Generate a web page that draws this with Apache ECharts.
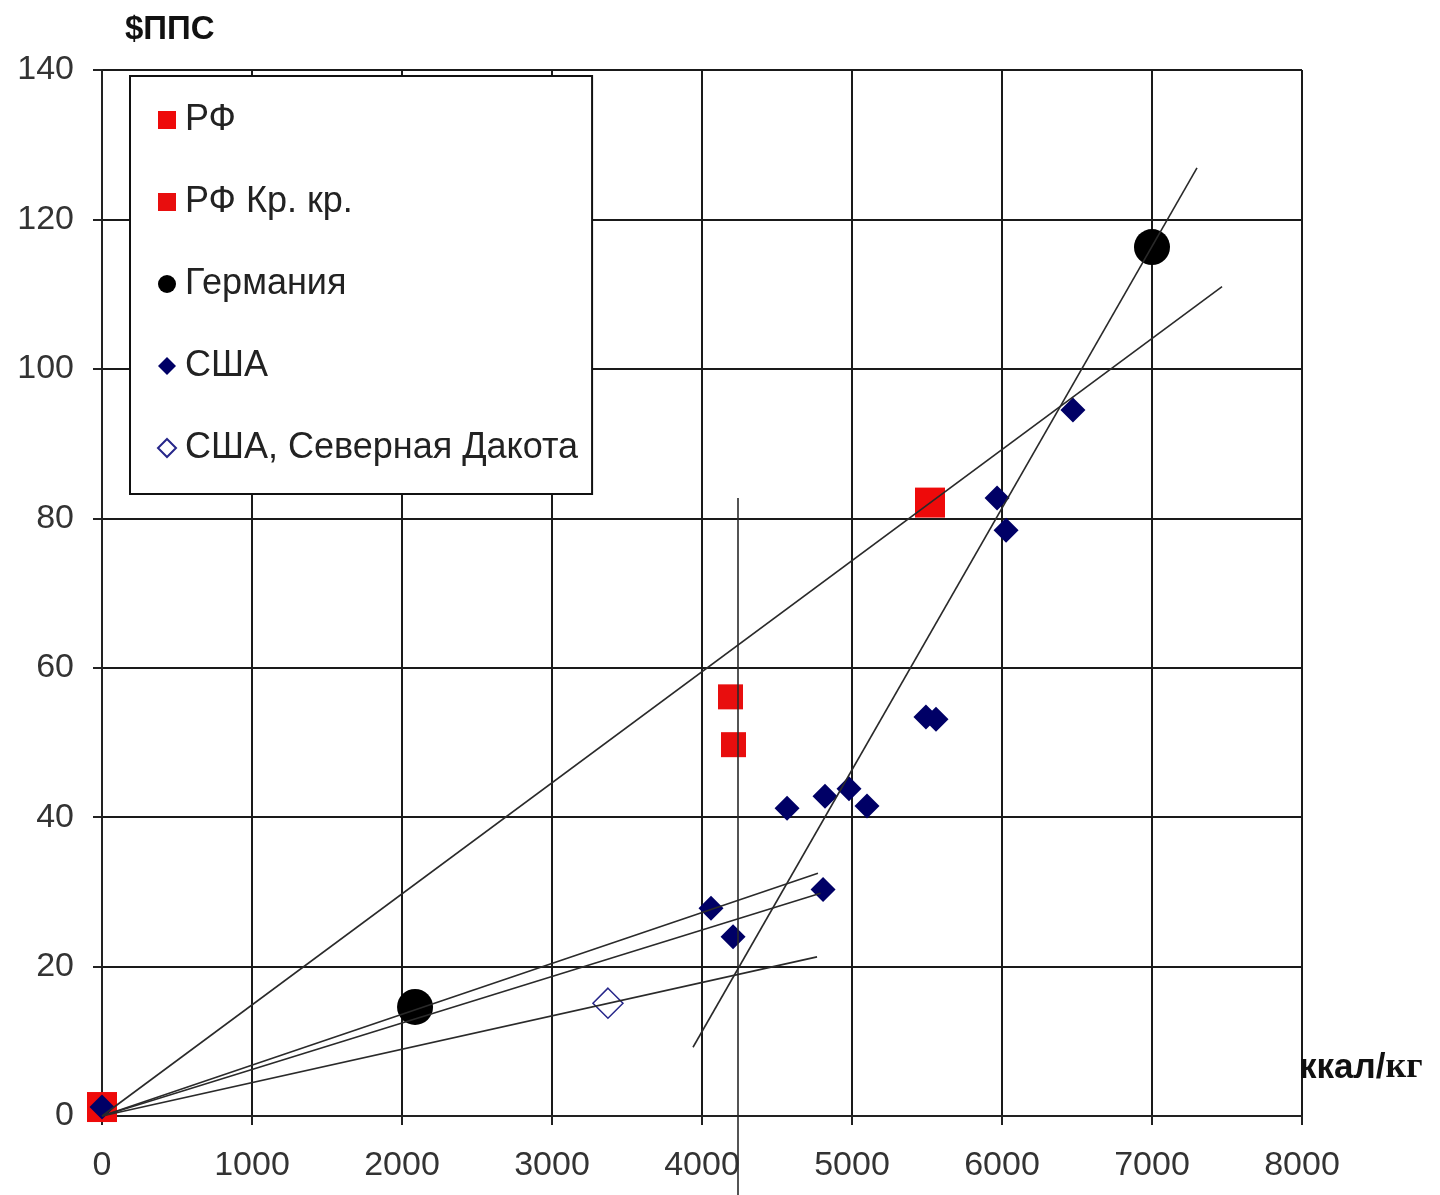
<!DOCTYPE html>
<html>
<head>
<meta charset="utf-8">
<script src="https://cdn.jsdelivr.net/npm/echarts@6/dist/echarts.min.js"></script>
<style>html,body{margin:0;padding:0;background:#fff}#c{width:1440px;height:1195px}</style>
</head>
<body>
<div id="c"></div>
<script>
// Data
const rfPoints = [[0, 1.2], [5520, 82.1]];
const rfKrPoints = [[4190, 56.1], [4210, 49.7]];
const germanyPoints = [[2087, 14.6], [7000, 116.3]];
const usaPoints = [[0, 1.2], [6473, 94.5], [5967, 82.7], [6027, 78.4], [5493, 53.4], [5560, 53.1],
  [4980, 43.8], [4820, 42.8], [5100, 41.5], [4567, 41.2], [4807, 30.3], [4060, 27.8], [4207, 24.0]];
const ndPoints = [[3373, 15.1]];
// Trend lines (endpoints)
const lineRF = [[0, 0], [7467, 111]];
const lineGermany = [[3940, 9.2], [7300, 126.9]];
const lineVertical = [[4240, 82.7], [4240, -10.6]];
const lineUsa1 = [[0, 0], [4773, 32.5]];
const lineUsa2 = [[0, 0], [4790, 29.8]];
const lineNd = [[0, 0], [4767, 21.3]];
const xTicks = [0, 1000, 2000, 3000, 4000, 5000, 6000, 7000, 8000];
const yTicks = [0, 20, 40, 60, 80, 100, 120, 140];
const legendNames = ['РФ', 'РФ Кр. кр.', 'Германия', 'США', 'США, Северная Дакота'];

const chart = echarts.init(document.getElementById('c'), null, {renderer: 'canvas'});
const font = 'Liberation Sans, Arial, sans-serif';
const trend = (d) => ({
  type: 'line', data: d, symbol: 'none', silent: true, clip: false, z: 5,
  lineStyle: {color: '#2a2a2a', width: 1.6}, animation: false
});
chart.setOption({
  animation: false,
  backgroundColor: '#fff',
  grid: {left: 102, right: 138, top: 70, bottom: 79},
  legend: {
    data: legendNames,
    orient: 'vertical',
    left: 130, top: 76,
    padding: [26, 14, 28, 27],
    itemGap: 46,
    itemWidth: 18, itemHeight: 18,
    backgroundColor: '#fff',
    borderColor: '#111', borderWidth: 2,
    textStyle: {fontFamily: font, fontSize: 36, color: '#222', padding: [0, 0, 0, 4]},
    selectedMode: false
  },
  xAxis: {
    type: 'value', min: 0, max: 8000, interval: 1000,
    name: '{a|ккал/}{b|кг}',
    nameLocation: 'end', nameGap: -3,
    nameTextStyle: {
      align: 'left', verticalAlign: 'bottom', padding: [0, 0, 30, 0],
      rich: {
        a: {fontFamily: font, fontWeight: 'bold', fontSize: 35, color: '#111'},
        b: {fontFamily: 'Liberation Serif, serif', fontWeight: 'bold', fontSize: 36, color: '#111'}
      }
    },
    axisLine: {lineStyle: {color: '#222', width: 2}},
    axisTick: {show: true, length: 9, lineStyle: {color: '#222', width: 2}},
    axisLabel: {fontFamily: font, fontSize: 34, color: '#333', margin: 33,
      formatter: (v) => xTicks.includes(v) ? String(v) : ''},
    splitLine: {show: true, lineStyle: {color: '#1a1a1a', width: 2}}
  },
  yAxis: {
    type: 'value', min: 0, max: 140, interval: 20,
    name: '$ППС',
    nameLocation: 'end', nameGap: 40,
    nameTextStyle: {fontFamily: font, fontWeight: 'bold', fontSize: 33, color: '#111',
      align: 'left', verticalAlign: 'middle', padding: [0, 0, 0, 23]},
    axisLine: {show: true, lineStyle: {color: '#222', width: 2}},
    axisTick: {show: true, length: 9, lineStyle: {color: '#222', width: 2}},
    axisLabel: {fontFamily: font, fontSize: 34, color: '#333', margin: 28,
      formatter: (v) => yTicks.includes(v) ? String(v) : ''},
    splitLine: {show: true, lineStyle: {color: '#1a1a1a', width: 2}}
  },
  series: [
    {name: 'РФ', type: 'scatter', data: rfPoints, symbol: 'rect', symbolSize: 30, z: 3,
      itemStyle: {color: '#ee0a0a', opacity: 1}},
    {name: 'РФ Кр. кр.', type: 'scatter', data: rfKrPoints, symbol: 'rect', symbolSize: 25, z: 3,
      itemStyle: {color: '#e80e0e', opacity: 1}},
    {name: 'Германия', type: 'scatter', data: germanyPoints, symbol: 'circle', symbolSize: 36, z: 3,
      itemStyle: {color: '#000', opacity: 1}},
    {name: 'США', type: 'scatter', data: usaPoints, symbol: 'diamond', symbolSize: 25, z: 4,
      itemStyle: {color: '#000066', opacity: 1}},
    {name: 'США, Северная Дакота', type: 'scatter', data: ndPoints, symbol: 'diamond', symbolSize: 30, z: 4,
      itemStyle: {color: '#fff', borderColor: '#26268a', borderWidth: 1.5, opacity: 1}},
    trend(lineRF), trend(lineGermany), trend(lineVertical),
    trend(lineUsa1), trend(lineUsa2), trend(lineNd)
  ]
});
</script>
</body>
</html>
